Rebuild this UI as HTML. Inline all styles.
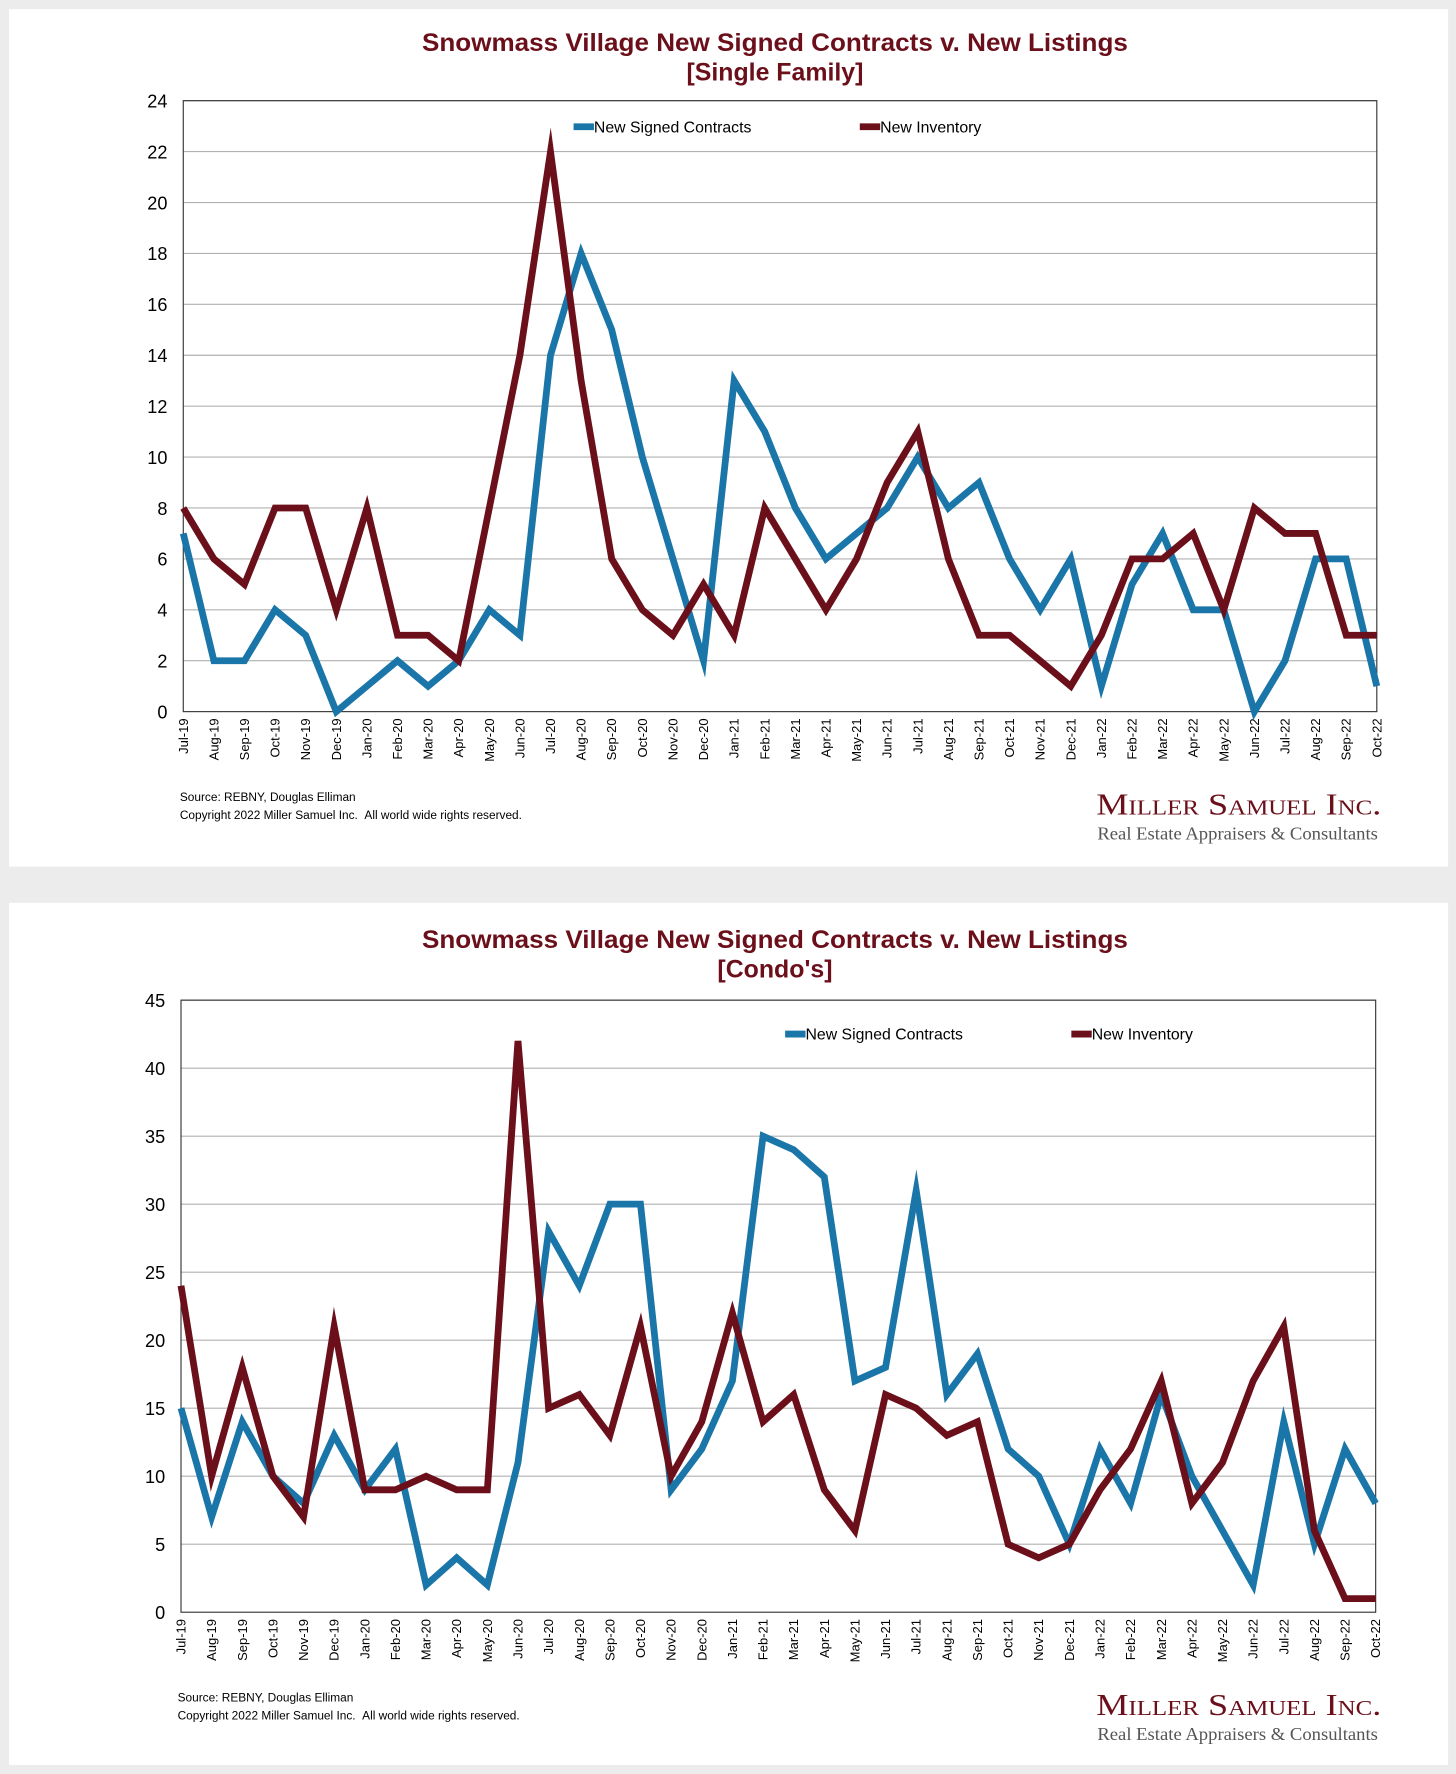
<!DOCTYPE html>
<html><head><meta charset="utf-8"><style>
html,body{margin:0;padding:0;background:#ececec;}
svg{display:block;}
text{font-family:"Liberation Sans",Arial,sans-serif;}
</style></head><body>
<svg id="root" width="1456" height="1774" viewBox="0 0 1287 1568" preserveAspectRatio="none" xmlns="http://www.w3.org/2000/svg">
<rect x="0" y="0" width="1287" height="1568" fill="#ececec"/>
</svg>
<script>
const months = ["Jul-19","Aug-19","Sep-19","Oct-19","Nov-19","Dec-19","Jan-20","Feb-20","Mar-20","Apr-20","May-20","Jun-20","Jul-20","Aug-20","Sep-20","Oct-20","Nov-20","Dec-20","Jan-21","Feb-21","Mar-21","Apr-21","May-21","Jun-21","Jul-21","Aug-21","Sep-21","Oct-21","Nov-21","Dec-21","Jan-22","Feb-22","Mar-22","Apr-22","May-22","Jun-22","Jul-22","Aug-22","Sep-22","Oct-22"];
const sfContracts = [7,2,2,4,3,0,1,2,1,2,4,3,14,18,15,10,6,2,13,11,8,6,7,8,10,8,9,6,4,6,1,5,7,4,4,0,2,6,6,1];
const sfInventory = [8,6,5,8,8,4,8,3,3,2,8,14,22,13,6,4,3,5,3,8,6,4,6,9,11,6,3,3,2,1,3,6,6,7,4,8,7,7,3,3];
const condoContracts = [15,7,14,10,8,13,9,12,2,4,2,11,28,24,30,30,9,12,17,35,34,32,17,18,31,16,19,12,10,5,12,8,16,10,6,2,14,5,12,8];
const condoInventory = [24,10,18,10,7,21,9,9,10,9,9,42,15,16,13,21,10,14,22,14,16,9,6,16,15,13,14,5,4,5,9,12,17,8,11,17,21,6,1,1];
const sfTicks = [0,2,4,6,8,10,12,14,16,18,20,22,24];
const condoTicks = [0,5,10,15,20,25,30,35,40,45];

const NS = "http://www.w3.org/2000/svg";
const root = document.getElementById('root');
function mk(tag, attrs, parent, txt){
  const e = document.createElementNS(NS, tag);
  for (const k in attrs) e.setAttribute(k, attrs[k]);
  if (txt !== undefined) e.textContent = txt;
  parent.appendChild(e);
  return e;
}
const BLUE = "#1a75a8", MAROON = "#6b0f1a";

function chart(cfg){
  const g = mk('g', {}, root);
  
  
  const panel = mk('rect', {x:8, y:cfg.py, width:1272, height:cfg.ph, fill:'#fff'}, g);
  
  
  const t1 = mk('text', {x:685, y:cfg.ty, 'text-anchor':'middle', 'font-size':22, 'font-weight':'bold', fill:MAROON, textLength:624, lengthAdjust:'spacingAndGlyphs'}, g, "Snowmass Village New Signed Contracts v. New Listings");
  
  
  const t2 = mk('text', {x:685, y:cfg.ty+26, 'text-anchor':'middle', 'font-size':22, 'font-weight':'bold', fill:MAROON}, g, cfg.sub);
  
  
  const L = cfg.left, R = cfg.right, T = cfg.top, B = cfg.bottom;
  const maxV = cfg.ticks[cfg.ticks.length-1];
  const y = v => B - (v/maxV)*(B-T);
  const x = i => L + i*(R-L)/(months.length-1);
  cfg.ticks.forEach(v=>{
    if (v>0) {
      const gl = mk('line', {x1:L, x2:R, y1:y(v), y2:y(v), stroke:'#b0b0b0', 'stroke-width':1}, g);
      
      
    }
    const tl = mk('text', {x:L-14, y:y(v)+6, 'text-anchor':'end', 'font-size':16, fill:'#000'}, g, String(v));
    
    
  });
  const frame = mk('rect', {x:L, y:T, width:R-L, height:B-T, fill:'none', stroke:'#333', 'stroke-width':1}, g);
  
  
  months.forEach((m,i)=>{
    const xl = mk('text', {x:0, y:0, 'text-anchor':'end', 'font-size':11.5, fill:'#000', transform:`translate(${x(i)+4},${B+6}) rotate(-90)`}, g, m);
    
    
  });
  [[cfg.c, BLUE, 'series-new-signed-contracts'], [cfg.inv, MAROON, 'series-new-inventory']].forEach(([arr,col,nm])=>{
    const pl = mk('polyline', {points: arr.map((v,i)=>x(i)+','+y(v)).join(' '), fill:'none', stroke:col, 'stroke-width':6, 'stroke-linejoin':'miter', 'stroke-miterlimit':10}, g);
    
    
  });
  [[cfg.lx1, BLUE, 'New Signed Contracts'], [cfg.lx2, MAROON, 'New Inventory']].forEach(([lx,col,lab])=>{
    const lg = mk('g', {}, g);
    
    
    mk('line', {x1:lx, x2:lx+18, y1:cfg.ly, y2:cfg.ly, stroke:col, 'stroke-width':6}, lg);
    mk('text', {x:lx+18, y:cfg.ly+5, 'font-size':14, fill:'#000'}, lg, lab);
  });
  const s1 = mk('text', {x:cfg.sx, y:cfg.sy, 'font-size':10.5, fill:'#000'}, g, "Source: REBNY, Douglas Elliman");
  
  
  const s2 = mk('text', {x:cfg.sx, y:cfg.sy+16, 'font-size':10.5, fill:'#000', 'xml:space':'preserve'}, g, "Copyright 2022 Miller Samuel Inc.\u00a0\u00a0All world wide rights reserved.");
  
  
  const lo = mk('text', {x:1221, y:cfg.sy+12, 'text-anchor':'end', 'font-size':27, fill:MAROON, textLength:252, lengthAdjust:'spacingAndGlyphs', style:'font-variant:small-caps;font-family:"Liberation Serif",serif'}, g, "Miller Samuel Inc.");
  
  
  const lt = mk('text', {x:1218, y:cfg.sy+34, 'text-anchor':'end', 'font-size':15.5, fill:'#555', textLength:248, lengthAdjust:'spacingAndGlyphs', style:'font-family:"Liberation Serif",serif'}, g, "Real Estate Appraisers & Consultants");
  
  
}
chart({name:'single-family-chart', py:8, ph:758, ty:45, sub:'[Single Family]', left:162, right:1217, top:89, bottom:629, ticks:sfTicks, c:sfContracts, inv:sfInventory, lx1:507, lx2:760, ly:112, sx:159, sy:708});
chart({name:'condo-chart', py:798, ph:762, ty:838, sub:"[Condo's]", left:160, right:1216, top:884, bottom:1425, ticks:condoTicks, c:condoContracts, inv:condoInventory, lx1:694, lx2:947, ly:914, sx:157, sy:1504});
</script>
</body></html>
